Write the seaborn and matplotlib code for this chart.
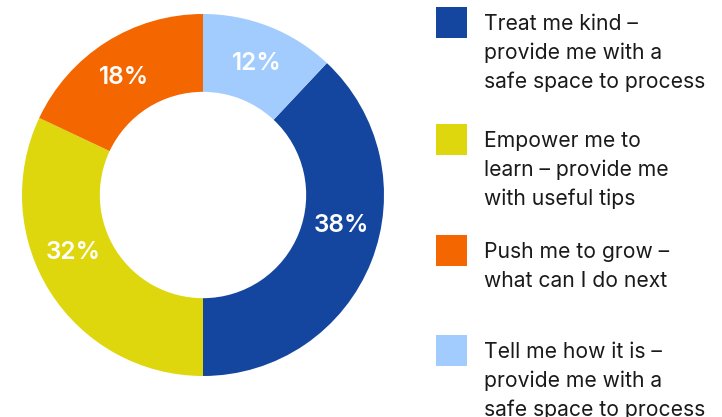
import matplotlib
matplotlib.use("Agg")
import matplotlib.pyplot as plt
import seaborn as sns
import numpy as np
from matplotlib.patches import Rectangle

# ---- data ----
categories = [
    "Treat me kind –\nprovide me with a\nsafe space to process",
    "Empower me to\nlearn – provide me\nwith useful tips",
    "Push me to grow –\nwhat can I do next",
    "Tell me how it is –\nprovide me with a\nsafe space to process",
]
values = [38, 32, 18, 12]
value_labels = ["38%", "32%", "18%", "12%"]

# ---- style ----
colors = ["#1446A0", "#DED70E", "#F46600", "#A2CCFE"]
label_angle_shift = [9, -8.5, 1.5, -0.5]   # degrees, nudges for label placement
legend_line_y = [22, 139, 250, 350]        # px from top, first line of each entry

sns.set_theme(style="white")
plt.rcParams["font.family"] = ["Inter", "DejaVu Sans"]

W, H = 722, 417
fig = plt.figure(figsize=(W / 100, H / 100), dpi=100)

cx, cy, R = 203, 195, 181
ax = fig.add_axes([(cx - R) / W, (H - cy - R) / H, 2 * R / W, 2 * R / H])
total = sum(values)
start = 90 - 360 * values[-1] / total  # last slice sits just right of top
wedges, _ = ax.pie(values, colors=colors, startangle=start, counterclock=False,
                   radius=1, wedgeprops=dict(width=0.43, linewidth=0))
ax.set_xlim(-1, 1)
ax.set_ylim(-1, 1)
ax.set_aspect("equal")
ax.axis("off")

r_lab = 1 - 0.43 / 2
for w, lab, sh in zip(wedges, value_labels, label_angle_shift):
    ang = np.deg2rad((w.theta1 + w.theta2) / 2 + sh)
    ax.text(r_lab * np.cos(ang), r_lab * np.sin(ang), lab, ha="center", va="center",
            color="white", fontsize=17.5, fontweight="semibold")

# ---- legend ----
sq = 31
line_h = 29
for cat, col, y0 in zip(categories, colors, legend_line_y):
    fig.patches.append(Rectangle((436 / W, (H - y0 - sq / 2) / H), sq / W, sq / H,
                                 transform=fig.transFigure, facecolor=col, edgecolor="none"))
    for i, line in enumerate(cat.split("\n")):
        fig.text(484 / W, (H - y0 - i * line_h) / H, line, ha="left", va="center_baseline",
                 fontsize=15.2, color="#1a1a1a")

fig.savefig("out.png", dpi=100)
